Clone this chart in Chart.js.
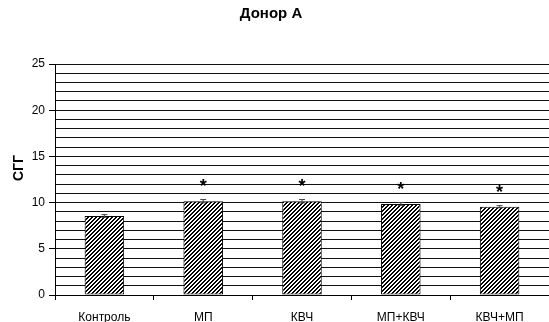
<!DOCTYPE html>
<html>
<head>
<meta charset="utf-8">
<script src="https://cdn.jsdelivr.net/npm/chart.js@4/dist/chart.umd.min.js"></script>
<style>
html,body{margin:0;padding:0;background:#fff;}
#wrap{width:549px;height:322px;position:relative;}
</style>
</head>
<body>
<div id="wrap"><canvas id="c" width="549" height="322"></canvas></div>
<script>
const chartTitle = "Донор А";
const yAxisTitle = "СГГ";
const categories = ["Контроль", "МП", "КВЧ", "МП+КВЧ", "КВЧ+МП"];
const values = [8.55, 10.15, 10.15, 9.85, 9.55];
const errors = [0.15, 0.18, 0.18, 0.15, 0.12];
const significant = [false, true, true, true, true];
const yTickLabels = [0, 5, 10, 15, 20, 25];

function makeHatch() {
  const c = document.createElement('canvas');
  c.width = 8; c.height = 8;
  const g = c.getContext('2d');
  g.fillStyle = '#fff';
  g.fillRect(0, 0, 8, 8);
  g.fillStyle = '#000';
  for (let y = 0; y < 8; y++) {
    for (let x = 0; x < 8; x++) {
      if ((x + y) % 4 < 2) g.fillRect(x, y, 1, 1);
    }
  }
  return g.createPattern(c, 'repeat');
}

const extras = {
  id: 'extras',
  afterDatasetsDraw(chart) {
    const ctx = chart.ctx;
    const ys = chart.scales.y;
    const meta = chart.getDatasetMeta(0);
    ctx.save();
    meta.data.forEach((bar, i) => {
      const x = bar.x;
      const top = ys.getPixelForValue(values[i] + errors[i]);
      const bot = ys.getPixelForValue(values[i] - errors[i]);
      ctx.strokeStyle = '#444';
      ctx.lineWidth = 1;
      ctx.beginPath();
      ctx.moveTo(x, top); ctx.lineTo(x, bot);
      ctx.moveTo(x - 3, top); ctx.lineTo(x + 3, top);
      ctx.moveTo(x - 3, bot); ctx.lineTo(x + 3, bot);
      ctx.stroke();
      if (significant[i]) {
        ctx.fillStyle = '#000';
        ctx.font = 'bold 18px "Liberation Sans", Arial, sans-serif';
        ctx.textAlign = 'center';
        ctx.textBaseline = 'middle';
        ctx.fillText('*', x, ys.getPixelForValue(values[i]) - 14);
      }
    });
    // title
    ctx.fillStyle = '#000';
    ctx.font = 'bold 15px "Liberation Sans", Arial, sans-serif';
    ctx.textAlign = 'center';
    ctx.textBaseline = 'middle';
    ctx.fillText(chartTitle, 271, 14);
    // y axis title
    ctx.translate(19, 168);
    ctx.rotate(-Math.PI / 2);
    ctx.font = 'bold 14px "Liberation Sans", Arial, sans-serif';
    ctx.fillText(yAxisTitle, 0, 0);
    ctx.restore();
  }
};

new Chart(document.getElementById('c'), {
  type: 'bar',
  data: {
    labels: categories,
    datasets: [{
      data: values,
      backgroundColor: makeHatch(),
      borderColor: '#000',
      borderWidth: 1,
      borderSkipped: false,
      barPercentage: 0.4,
      categoryPercentage: 1.0
    }]
  },
  options: {
    responsive: false,
    animation: false,
    events: [],
    layout: { padding: { top: 64, left: 0, right: 0, bottom: 0 } },
    plugins: { legend: { display: false }, title: { display: false }, tooltip: { enabled: false } },
    scales: {
      x: {
        grid: { drawOnChartArea: false, color: '#000', tickLength: 5, offset: true },
        border: { color: '#000', width: 1 },
        ticks: { color: '#000', padding: 10, font: { family: '"Liberation Sans", Arial, sans-serif', size: 12 } },
        afterFit(s) { s.height = 27; }
      },
      y: {
        min: 0, max: 25,
        grid: {
          color: '#111',
          lineWidth: 1,
          tickLength: 6,
          tickColor: (c) => (yTickLabels.includes(c.tick.value) ? '#000' : 'rgba(0,0,0,0)')
        },
        border: { color: '#000', width: 1 },
        ticks: {
          stepSize: 1,
          autoSkip: false,
          color: '#000',
          padding: 4,
          font: { family: '"Liberation Sans", Arial, sans-serif', size: 12 },
          callback: (v) => (yTickLabels.includes(v) ? String(v) : '')
        },
        afterFit(s) { s.width = 55; }
      }
    }
  },
  plugins: [extras]
});
</script>
</body>
</html>
